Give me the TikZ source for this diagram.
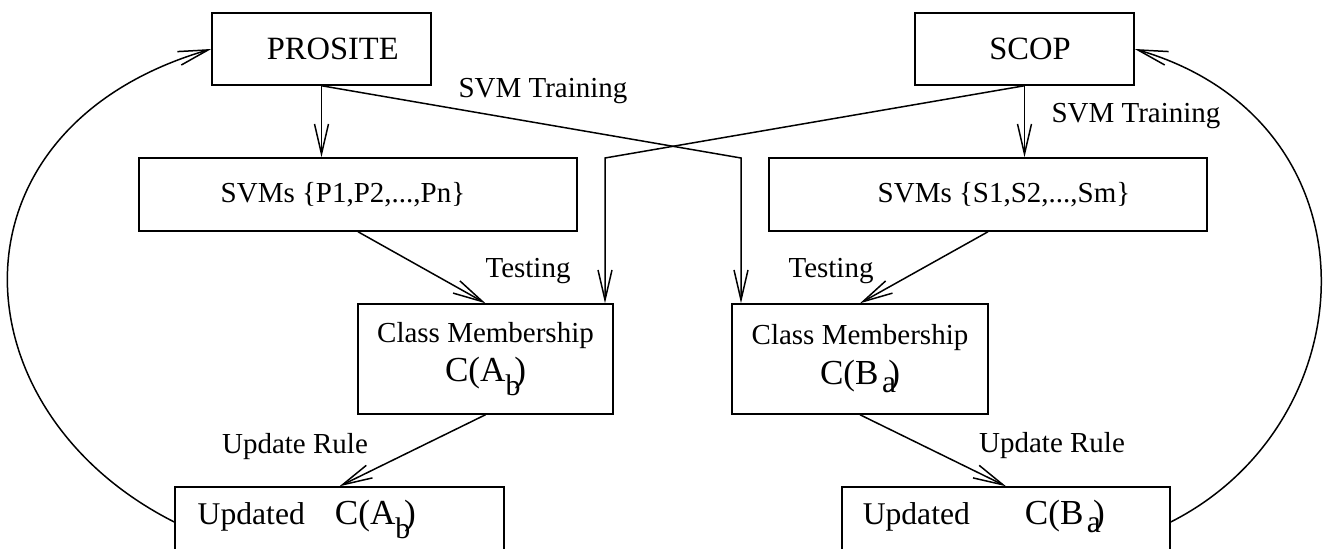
\documentclass[tikz,border=0pt]{standalone}
\usepackage{fontspec}
\setmainfont{Liberation Serif}
\usetikzlibrary{arrows.meta,calc}
\newcommand\txtsize[1]{\fontsize{#1}{#1}\selectfont}
\newcommand\CAb{C(A\raisebox{-8pt}{\txtsize{17}b}\kern-3.5pt)}
\newcommand\CBa{C(B\kern2pt\raisebox{-5pt}{\txtsize{18}a}\kern-4.5pt)}

\begin{document}
\begin{tikzpicture}[x=0.02cm, y=-0.02cm, line width=0.85pt,
    box/.style={draw, inner sep=0pt},
    arr/.style={-{Straight Barb[length=0.6cm, width=0.28cm]}},
    lbl/.style={font=\txtsize{16.5}}]
          \useasboundingbox (0, 0) rectangle (1326, 548);
          \clip (0, 0) rectangle (1326, 548);

          \node [box, minimum width=4.38cm, minimum height=1.44cm, font=\txtsize{18.5}] (prosite) at (321.5, 49) {\hspace*{0.45cm}PROSITE};
          \node [box, minimum width=4.38cm, minimum height=1.44cm, font=\txtsize{18.5}] (scop) at (1024.5, 49) {\hspace*{0.22cm}SCOP};

          \node [box, lbl, minimum width=8.76cm, minimum height=1.46cm] (svmp) at (358, 194.5) {SVMs \{P1,P2,...,Pn\}\hspace*{0.6cm}};
          \node [box, lbl, minimum width=8.76cm, minimum height=1.46cm] (svms) at (988, 194.5) {\hspace*{0.64cm}SVMs \{S1,S2,...,Sm\}};

          \node [box, lbl, align=center, minimum width=5.1cm, minimum height=2.2cm] (classa) at (485.5, 359) {Class Membership\\[4pt] {\txtsize{20}\CAb}};
          \node [box, lbl, align=center, minimum width=5.12cm, minimum height=2.2cm] (classb) at (860, 359) {Class Membership\\[4pt] {\txtsize{20}\CBa}};

          \node [box, minimum width=6.58cm, minimum height=1.4cm] (upda) at (339.5, 522) {};
          \node [anchor=base west, inner sep=0pt, font=\txtsize{18}] (updatxt) at (197, 524) {Updated\hspace{0.6cm}{\txtsize{20}\CAb}};
          \node [box, minimum width=6.56cm, minimum height=1.4cm] (updb) at (1006, 522) {};
          \node [anchor=base west, inner sep=0pt, font=\txtsize{18}] (updbtxt) at (862, 524) {Updated\hspace{1.1cm}{\txtsize{20}\CBa}};

          \node [lbl, anchor=base] (trainp) at (543, 97) {SVM Training};
          \node [lbl, anchor=base] (trains) at (1136, 122) {SVM Training};
          \node [lbl, anchor=base] (testa) at (528, 277) {Testing};
          \node [lbl, anchor=base] (testb) at (831, 277) {Testing};
          \node [lbl, anchor=base] (rulea) at (295, 453) {Update Rule};
          \node [lbl, anchor=base] (ruleb) at (1052, 452) {Update Rule};

          \coordinate (benda) at (605, 158);
          \coordinate (bendb) at (741, 158);

          \draw [arr] (prosite.south) -- (prosite.south |- svmp.north);
          \draw [arr] (scop.south) -- (scop.south |- svms.north);
          \draw [arr] (prosite.south) -- (bendb) -- (bendb |- classb.north);
          \draw [arr] (scop.south) -- (benda) -- (benda |- classa.north);
          \draw [arr] (svmp.south) -- (classa.north);
          \draw [arr] (svms.south) -- (classb.north);
          \draw [arr] (classa.south) -- (upda.north);
          \draw [arr] (classb.south) -- (updb.north);
          \draw [arr] (upda.west) .. controls +(-222, -112) and +(-271, 79) .. (prosite.west);
          \draw [arr] (updb.east) .. controls +(200, -101) and +(248, 72) .. (scop.east);
        \end{tikzpicture}
\end{document}
